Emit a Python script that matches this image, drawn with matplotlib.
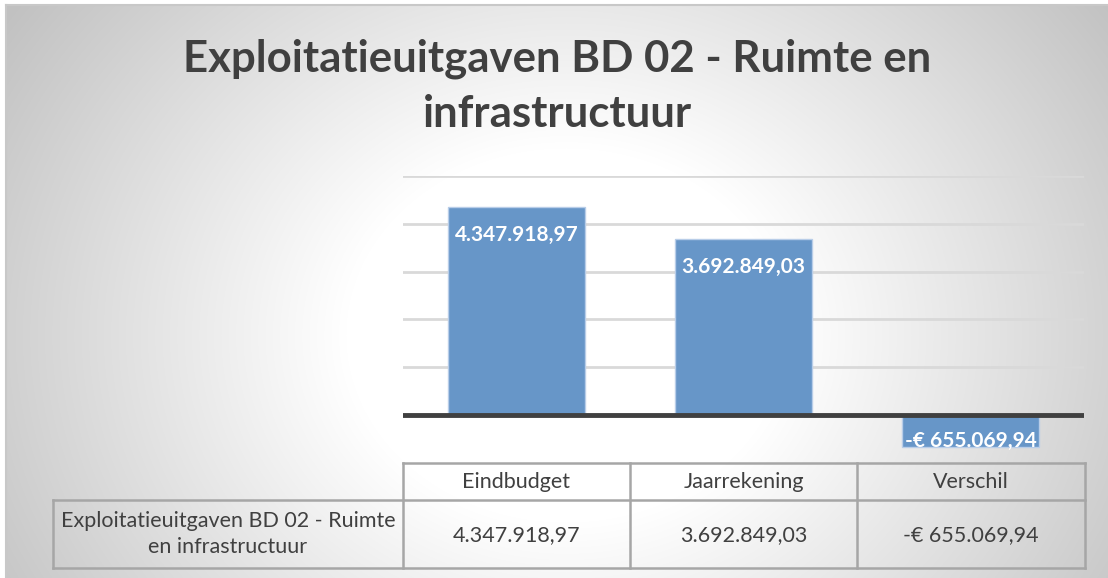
import numpy as np
import matplotlib.pyplot as plt

# data
categories = ['Eindbudget', 'Jaarrekening', 'Verschil']
values = [4347918.97, 3692849.03, -655069.94]
series_name = 'Exploitatieuitgaven BD 02 - Ruimte\nen infrastructuur'
title = 'Exploitatieuitgaven BD 02 - Ruimte en\ninfrastructuur'


def fmt(v):
    s = f"{abs(v):,.2f}".replace(',', 'X').replace('.', ',').replace('X', '.')
    return s if v >= 0 else '-€ ' + s


W, H = 1108, 578
fig = plt.figure(figsize=(W / 100, H / 100), dpi=100)
fig.patch.set_facecolor('white')

# radial gradient background (excel style)
bg = fig.add_axes([6 / W, 0, 1 - 6 / W, 1 - 5 / H], zorder=0)
yy, xx = np.mgrid[0:573, 0:1102]
r = np.sqrt(((xx - 560) / 1.0) ** 2 + ((yy - 330) / 0.85) ** 2)
t = np.clip((r - 220) / 450, 0, 1)
shade = 1 - t * (1 - 0.76)
bg.imshow(np.dstack([shade] * 3), aspect='auto', interpolation='bilinear')
bg.set_axis_off()
fig.add_artist(plt.Line2D([6 / W, 6 / W], [0, 1 - 5 / H], color='#c8c8c8', lw=1.5))
fig.add_artist(plt.Line2D([6 / W, 1], [1 - 5 / H, 1 - 5 / H], color='#c8c8c8', lw=1.5))

fig.text(0.5 + 3 / W, 1 - 86 / H, title, ha='center', va='center', fontsize=31.5,
         fontweight='bold', color='#404040', family='Lato', linespacing=1.45)

# bar chart
ax = fig.add_axes([403 / W, 1 - 463 / H, 681 / W, 287 / H], zorder=2)
ax.patch.set_alpha(0)
x = np.arange(len(categories))
bars = ax.bar(x, values, width=0.6, color='#6796c8', edgecolor='#b8cde8', lw=1, zorder=2)
ax.set_xlim(-0.5, 2.5)
ax.set_ylim(-1e6, 5e6)
for g in range(1, 6):
    ax.axhline(g * 1e6, color='#d9d9d9', lw=2, zorder=1)
ax.axhline(0, color='#404040', lw=3.5, zorder=3)
for sp in ax.spines.values():
    sp.set_visible(False)
ax.set_xticks([])
ax.set_yticks([])

for xi, v in zip(x, values):
    off = -28 if v >= 0 else 6
    ax.annotate(fmt(v), (xi, v), xytext=(0, off), textcoords='offset pixels',
                ha='center', va='center', color='white', fontweight='bold',
                fontsize=15, family='Lato', zorder=4)

# data table below
tb = fig.add_axes([0, 0, 1, 1], zorder=1)
tb.set_xlim(0, W)
tb.set_ylim(H, 0)
tb.set_axis_off()
col_edges = [53, 403, 630, 857, 1085]
lc = '#a6a6a6'
kw = dict(color=lc, lw=1.8)
tb.plot([403, 1085], [463, 463], **kw)
tb.plot([53, 1085], [500, 500], **kw)
tb.plot([53, 1085], [568, 568], **kw)
tb.plot([53, 53], [500, 568], **kw)
for cx in col_edges[1:]:
    tb.plot([cx, cx], [463, 568], **kw)

tk = dict(ha='center', va='center', fontsize=15.5, color='#404040', family='Lato')
for i, c in enumerate(categories):
    cx = (col_edges[i + 1] + col_edges[i + 2]) / 2
    tb.text(cx, 482, c, **tk)
    tb.text(cx, 535, fmt(values[i]), **tk)
tb.text((53 + 403) / 2, 534, series_name, linespacing=1.4, **tk)

fig.savefig('out.png', dpi=100)
